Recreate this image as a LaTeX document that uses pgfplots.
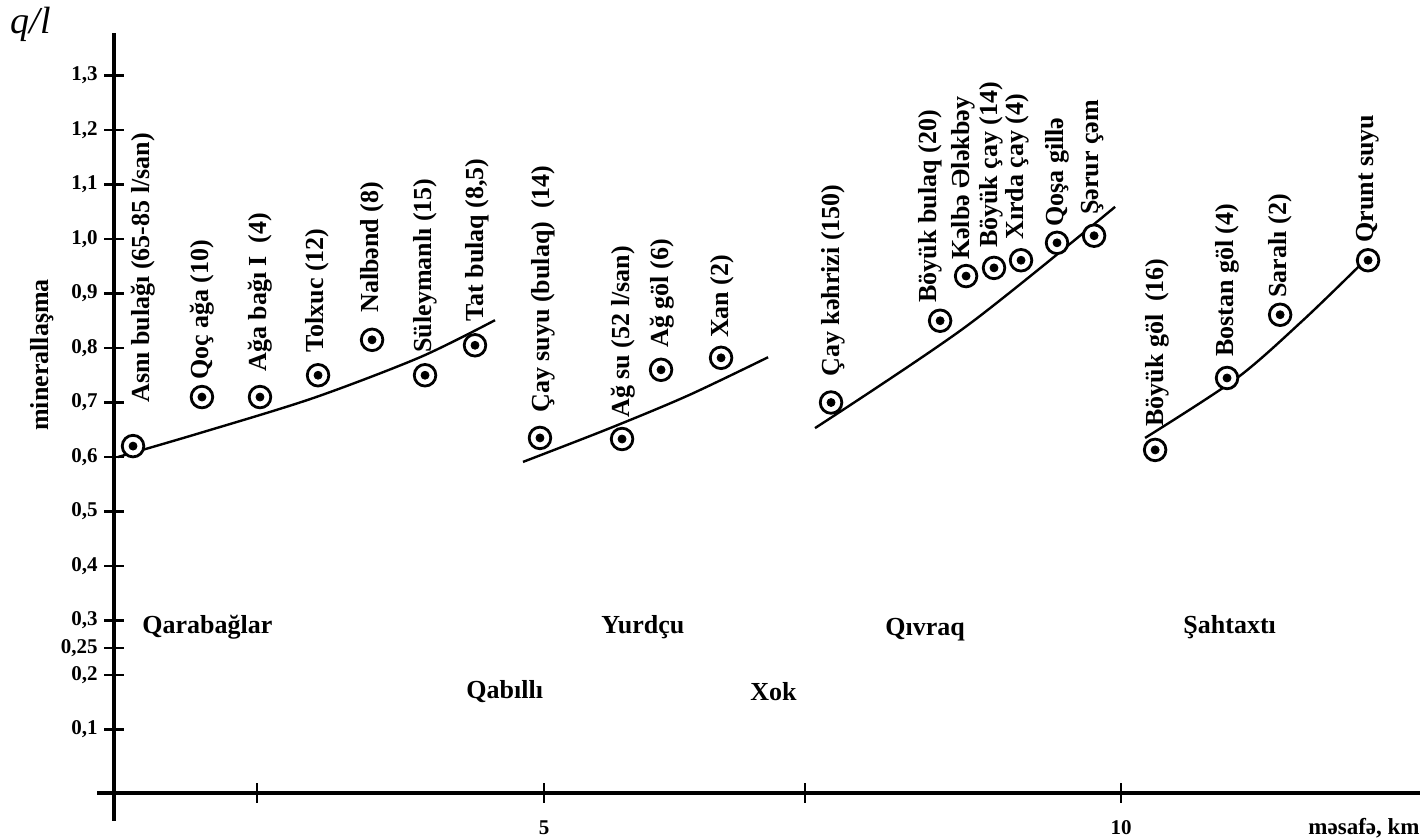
\documentclass[border=0pt]{standalone}
\usepackage{pgfplots}
\pgfplotsset{compat=1.18}
\usepackage{pgfplotstable}
\usepackage{fontspec}
\setmainfont{Liberation Serif}
\newcommand\lab{\bfseries\fontsize{13}{14}\selectfont}

\pgfplotstableread{
x y
1.439 0.62
2.036 0.71
2.539 0.71
3.042 0.75
3.510 0.815
3.969 0.75
4.402 0.805
4.965 0.635
5.676 0.633
6.014 0.76
6.534 0.782
7.487 0.70
8.432 0.85
8.657 0.932
8.899 0.947
9.133 0.961
9.445 0.993
9.766 1.006
10.295 0.613
10.918 0.745
11.378 0.861
12.140 0.961
}\springs

\begin{document}
\begin{tikzpicture}
\useasboundingbox (0,0) rectangle (710pt,420pt);
\begin{axis}[
  at={(57pt,23.5pt)}, anchor=south west,
  scale only axis, width=653pt, height=380pt,
  xmin=1.274, xmax=12.59, ymin=-0.0165, ymax=1.378,
  axis lines=left,
  axis line style={-, line width=1.8pt},
  clip=false,
  tick align=center,
  major tick length=10pt,
  tick style={line width=1.2pt, black},
  xtick={2.513,5,7.262,10},
  xticklabels={,5,,10},
  xticklabel style={font=\bfseries\fontsize{10.5}{11}\selectfont, anchor=north, inner sep=0pt, yshift=-8.5pt},
  ytick={0.1,0.2,0.25,0.3,0.4,0.5,0.6,0.7,0.8,0.9,1.0,1.1,1.2,1.3},
  yticklabels={{0,1},{0,2},{0,25},{0,3},{0,4},{0,5},{0,6},{0,7},{0,8},{0,9},{1,0},{1,1},{1,2},{1,3}},
  yticklabel style={font=\bfseries\fontsize{10.5}{11}\selectfont, anchor=east, inner sep=0pt, xshift=-3pt},
]
% axis overhangs
\draw[line width=1.8pt] (axis cs:1.127,-0.0165) -- (axis cs:1.274,-0.0165);
\draw[line width=1.8pt] (axis cs:1.274,-0.0165) -- (axis cs:1.274,-0.068);

% trend curves
\addplot[smooth, line width=1.2pt, black] coordinates {(1.308,0.600) (2.019,0.644) (2.998,0.708) (3.925,0.783) (4.575,0.851)};
\addplot[smooth, line width=1.2pt, black] coordinates {(4.818,0.591) (5.572,0.653) (6.25,0.713) (6.941,0.783)};
\addplot[smooth, line width=1.2pt, black] coordinates {(7.348,0.653) (8.66,0.840) (9.948,1.059)};
\addplot[smooth, line width=1.2pt, black] coordinates {(10.208,0.635) (11.005,0.745) (11.577,0.851) (12.071,0.952)};

% spring markers
\addplot[only marks, mark=*, mark size=5.4pt, mark options={fill=white, draw=black, line width=1.4pt}] table {\springs};
\addplot[only marks, mark=*, mark size=2pt, mark options={fill=black, draw=black}] table {\springs};

% spring labels
\begin{scope}[every node/.style={rotate=90, anchor=west, inner sep=0pt, font=\lab}]
\node at (axis cs:1.525,0.699) {Asnı bulağı (65-85 l/san)};
\node at (axis cs:2.036,0.741) {Qoç ağa (10)};
\node at (axis cs:2.539,0.756) {Ağa bağı I\ \ (4)};
\node at (axis cs:3.033,0.791) {Tolxuc (12)};
\node at (axis cs:3.510,0.864) {Nalbənd (8)};
\node at (axis cs:3.969,0.791) {Süleymanlı (15)};
\node at (axis cs:4.419,0.848) {Tat bulaq (8,5)};
\node at (axis cs:4.991,0.681) {Çay suyu (bulaq)\ \ (14)};
\node at (axis cs:5.685,0.672) {Ağ su (52 l/san)};
\node at (axis cs:6.023,0.800) {Ağ göl (6)};
\node at (axis cs:6.542,0.818) {Xan (2)};
\node at (axis cs:7.504,0.747) {Çay kəhrizi (150)};
\node at (axis cs:8.345,0.883) {Böyük bulaq (20)};
\node at (axis cs:8.631,0.961) {Kəlbə Ələkbəy};
\node at (axis cs:8.873,0.983) {Böyük çay (14)};
\node at (axis cs:9.099,0.998) {Xırda çay (4)};
\node at (axis cs:9.445,1.022) {Qoşa gillə};
\node at (axis cs:9.757,1.044) {Şərur çəm};
\node at (axis cs:10.312,0.655) {Böyük göl\ \ (16)};
\node at (axis cs:10.918,0.783) {Bostan göl (4)};
\node at (axis cs:11.378,0.892) {Saralı (2)};
\node at (axis cs:12.140,0.993) {Qrunt suyu};
\end{scope}

% village names
\begin{scope}[every node/.style={anchor=west, inner sep=0pt, font=\lab}]
\node at (axis cs:1.516,0.288) {Qarabağlar};
\node at (axis cs:4.324,0.169) {Qabıllı};
\node at (axis cs:5.494,0.288) {Yurdçu};
\node at (axis cs:6.785,0.169) {Xok};
\node at (axis cs:7.955,0.284) {Qıvraq};
\node at (axis cs:10.537,0.288) {Şahtaxtı};
\end{scope}
\end{axis}
\node[font=\itshape\fontsize{19}{21}\selectfont, inner sep=0pt] at (15.5pt,408pt) {q/l};
\node[rotate=90, inner sep=0pt, font=\lab] at (21pt,242.5pt) {minerallaşma};
\node[anchor=east, inner sep=0pt, font=\bfseries\fontsize{11.5}{12}\selectfont] at (710pt,6pt) {məsafə, km};
\end{tikzpicture}
\end{document}
